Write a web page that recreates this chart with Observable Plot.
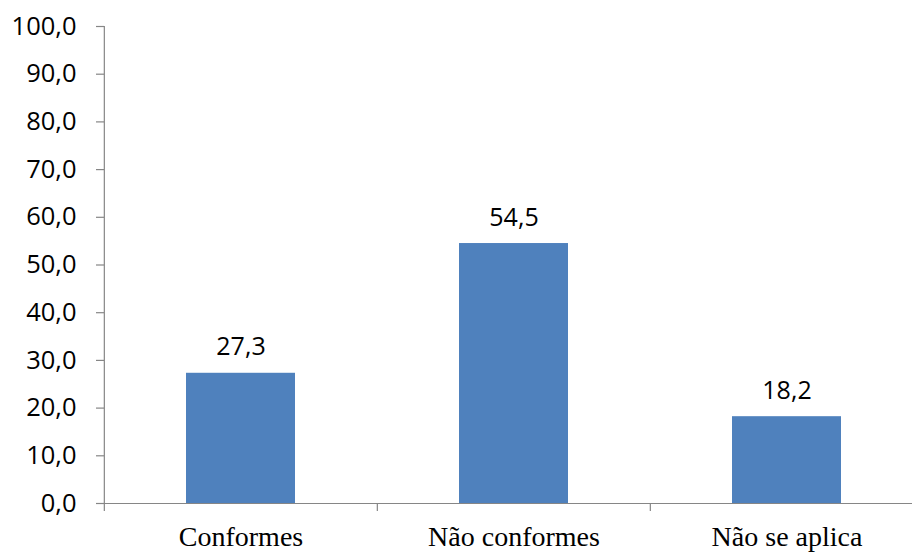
<!DOCTYPE html>
<html>
<head>
<meta charset="utf-8">
<script src="https://cdn.jsdelivr.net/npm/d3@7"></script>
<script src="https://cdn.jsdelivr.net/npm/@observablehq/plot@0.6"></script>
<style>
  html, body { margin: 0; padding: 0; background: #fff; overflow: hidden; }
  #chart svg { display: block; }
</style>
</head>
<body>
<div id="chart"></div>
<script>
const categories = ["Conformes", "Não conformes", "Não se aplica"];
const values = [27.3, 54.5, 18.2];
const yTicks = [0, 10, 20, 30, 40, 50, 60, 70, 80, 90, 100];

const data = categories.map((c, i) => ({category: c, value: values[i]}));
const fmt = d => d.toFixed(1).replace(".", ",");

const W = 912, H = 552, ML = 104, MR = -12;
const step = (W - ML - MR) / categories.length;
const axisColor = "#868686";
const sans = "'Open Sans', sans-serif";
const serif = "'Liberation Serif', 'Times New Roman', serif";

const chart = Plot.plot({
  width: W,
  height: H,
  marginLeft: ML,
  marginRight: MR,
  marginTop: 26,
  marginBottom: 49,
  style: {background: "#fff", overflow: "hidden"},
  x: {domain: categories, paddingInner: 0.6, paddingOuter: 0.3, axis: null},
  y: {domain: [0, 100], axis: null},
  marks: [
    Plot.barY(data, {x: "category", y: "value", fill: "#4F81BD"}),
    Plot.ruleY([0], {stroke: axisColor, strokeWidth: 1.2}),
    Plot.ruleX([categories[0]], {x: d => d, dx: -step / 2, y1: 0, y2: 100, stroke: axisColor, strokeWidth: 1.2}),
    Plot.ruleX(categories, {x: d => d, dx: -step / 2, y1: 0, y2: 0, insetBottom: -8, stroke: axisColor, strokeWidth: 1.2}),
    Plot.axisY(yTicks, {
      anchor: "left",
      tickSize: 8,
      tickPadding: 20,
      tickFormat: fmt,
      stroke: axisColor,
      strokeWidth: 1.2,
      fill: "#000",
      fontSize: 25.5,
      fontFamily: sans,
      label: null
    }),
    Plot.text(data, {
      x: "category",
      y: "value",
      text: d => fmt(d.value),
      dy: -26,
      fill: "#000",
      fontSize: 25,
      fontFamily: sans
    }),
    Plot.axisX({
      anchor: "bottom",
      tickSize: 0,
      tickPadding: 23,
      fill: "#000",
      fontSize: 28,
      fontFamily: serif,
      label: null
    })
  ]
});
document.getElementById("chart").appendChild(chart);
</script>
</body>
</html>
